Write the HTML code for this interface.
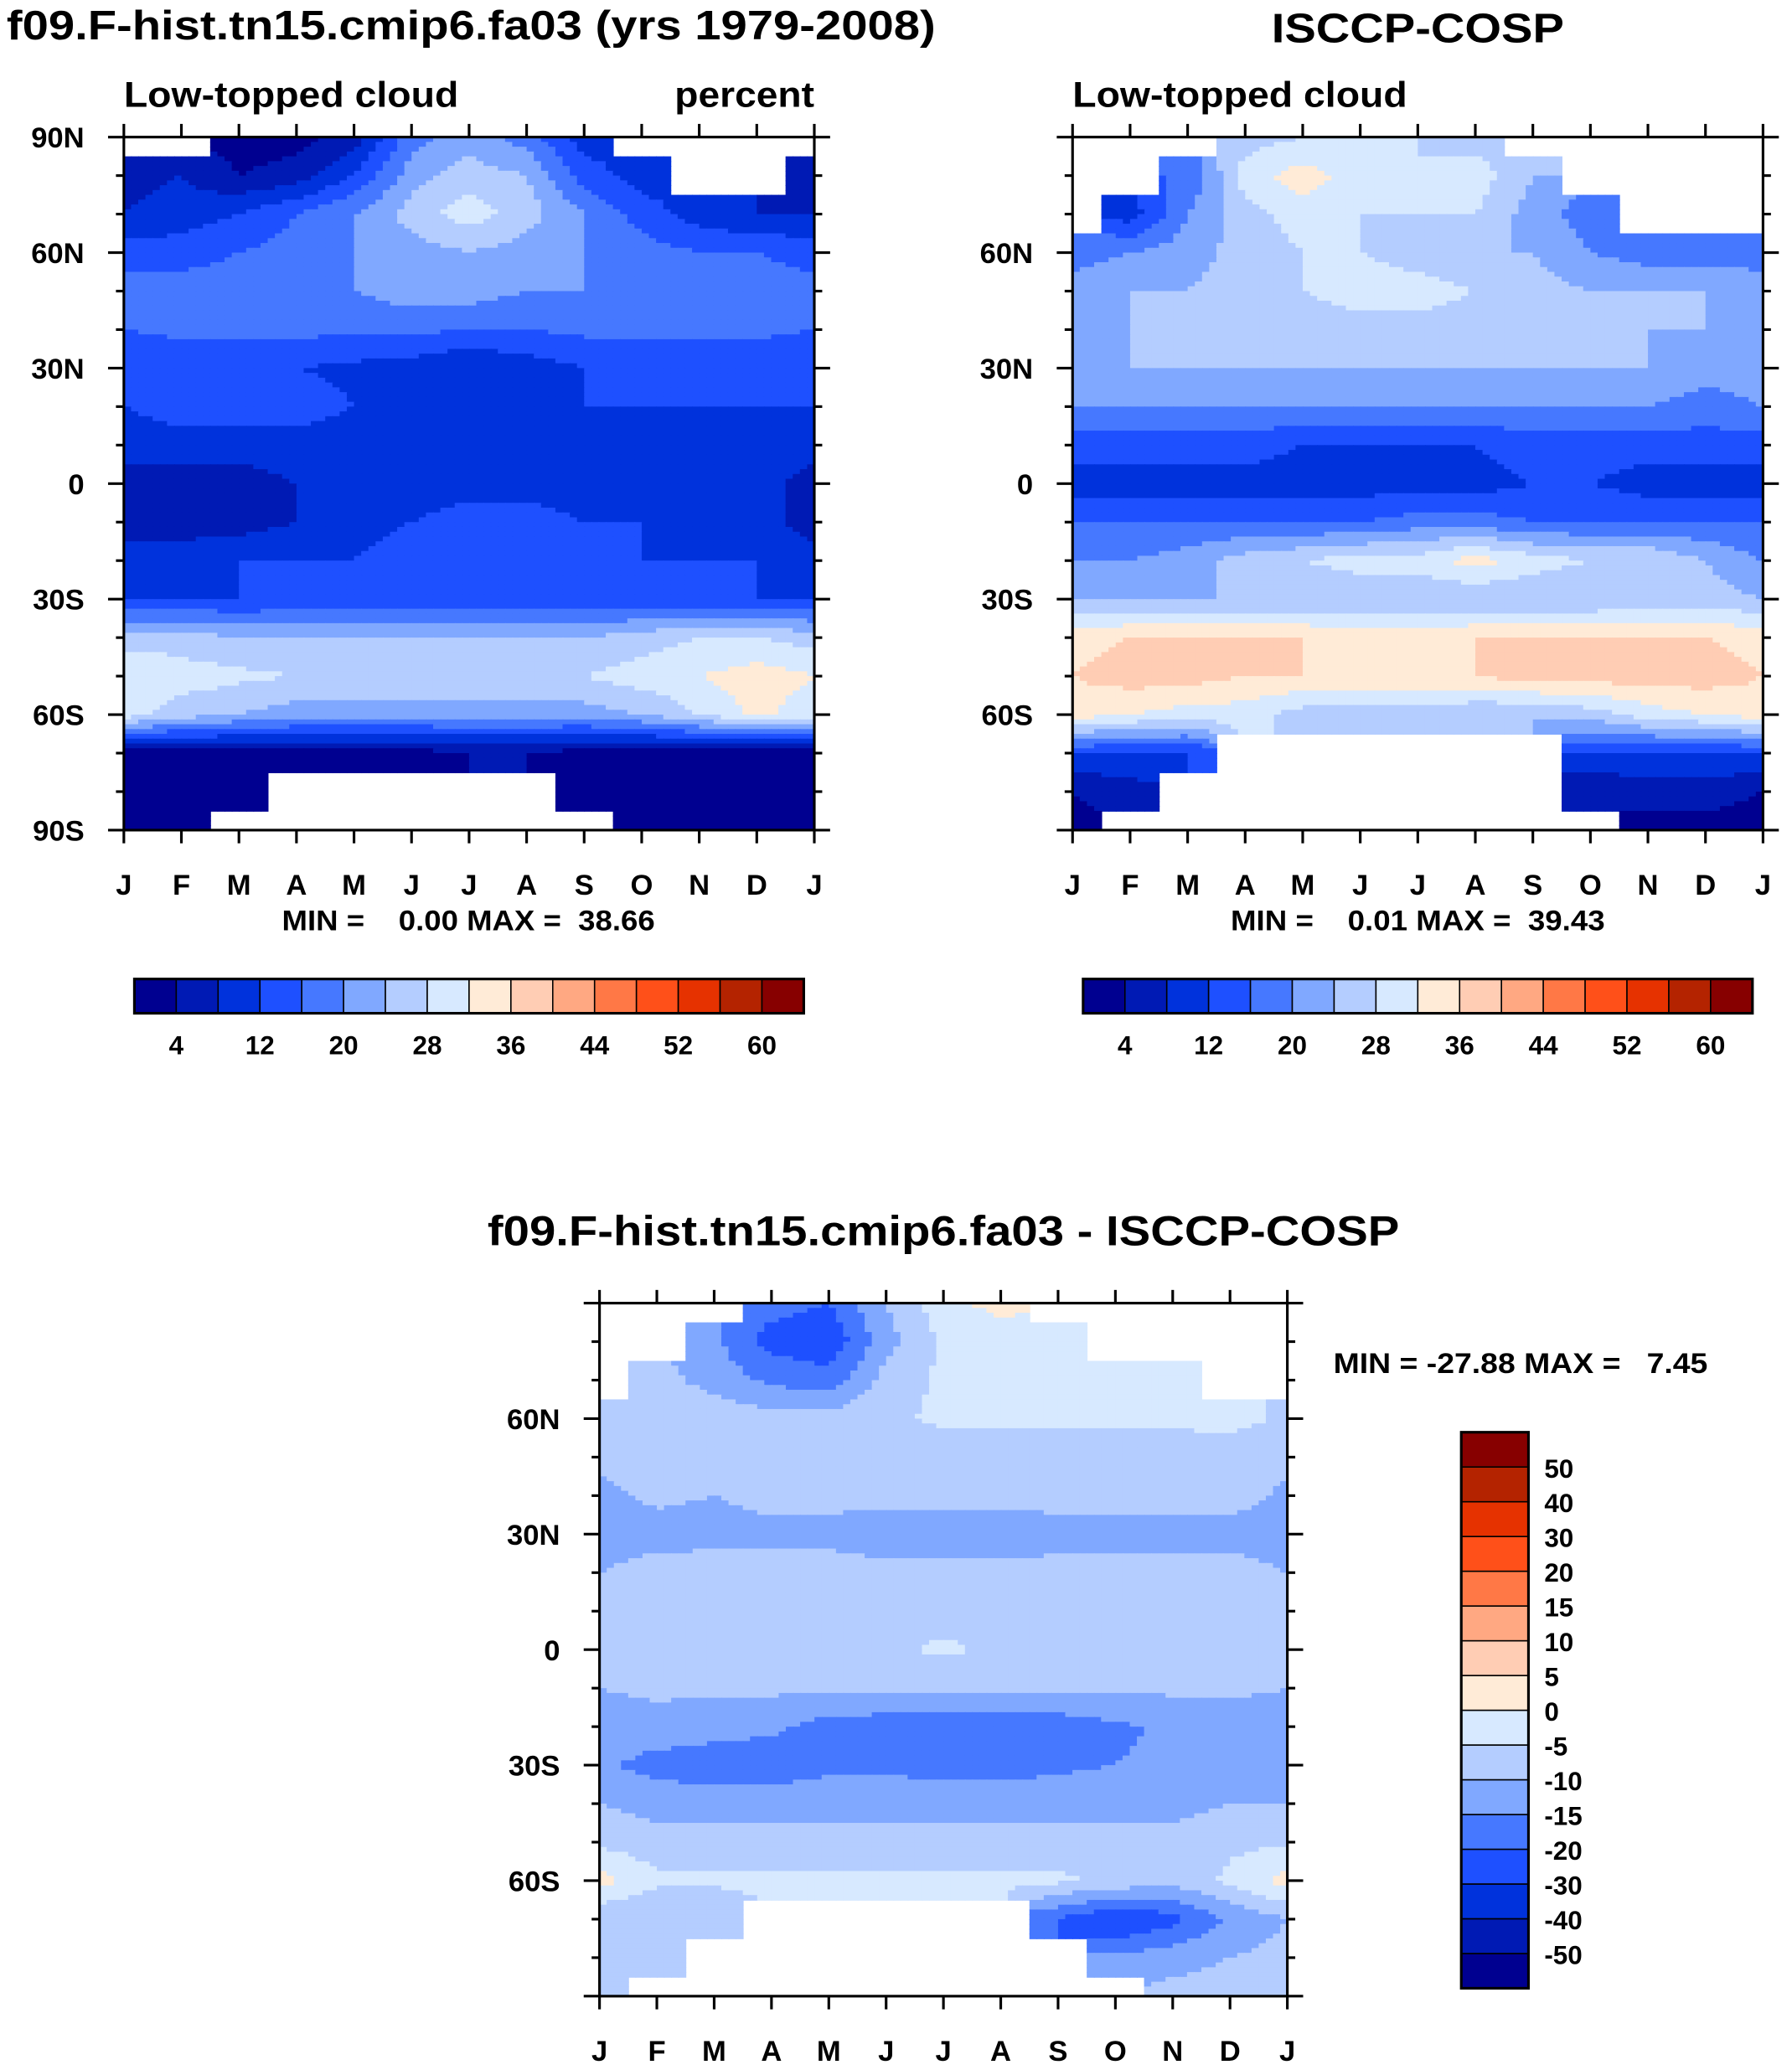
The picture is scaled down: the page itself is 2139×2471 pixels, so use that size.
<!DOCTYPE html>
<html><head><meta charset="utf-8"><style>
html,body{margin:0;padding:0;background:#fff}
svg{display:block}
text{font-family:"Liberation Sans",sans-serif;font-weight:bold;fill:#000}
</style></head><body>
<svg id="fig" width="2139" height="2471" viewBox="0 0 1360 1571" xmlns="http://www.w3.org/2000/svg">
<text x="5" y="30" font-size="31" textLength="705" lengthAdjust="spacingAndGlyphs">f09.F-hist.tn15.cmip6.fa03 (yrs 1979-2008)</text>
<text x="965" y="32" font-size="31" textLength="222" lengthAdjust="spacingAndGlyphs">ISCCP-COSP</text>
<text x="94" y="81" font-size="27" textLength="254" lengthAdjust="spacingAndGlyphs">Low-topped cloud</text>
<text x="512" y="81" font-size="27" textLength="106" lengthAdjust="spacingAndGlyphs">percent</text>
<text x="814" y="81" font-size="27" textLength="254" lengthAdjust="spacingAndGlyphs">Low-topped cloud</text>
<text x="214" y="706" font-size="22" textLength="283" lengthAdjust="spacingAndGlyphs" xml:space="preserve">MIN =    0.00 MAX =  38.66</text>
<text x="934" y="706" font-size="22" textLength="284" lengthAdjust="spacingAndGlyphs" xml:space="preserve">MIN =    0.01 MAX =  39.43</text>
<text x="370" y="945" font-size="32" textLength="692" lengthAdjust="spacingAndGlyphs">f09.F-hist.tn15.cmip6.fa03 - ISCCP-COSP</text>
<text x="1012" y="1042" font-size="22" textLength="284" lengthAdjust="spacingAndGlyphs" xml:space="preserve">MIN = -27.88 MAX =   7.45</text>
</svg>
<script>
const palette=['#000090','#001ab4','#0032dc','#1e50ff','#4678ff','#80a8ff','#b4cdff','#d7e9ff','#ffebd7','#ffcdb4','#ffa882','#ff7846','#ff5019','#e63200','#b42300','#870000'];
const monthLabels=['J','F','M','A','M','J','J','A','S','O','N','D','J'];
const levelsAbs=[4,8,12,16,20,24,28,32,36,40,44,48,52,56,60];
const levelsDiff=[-50,-40,-30,-20,-15,-10,-5,0,5,10,15,20,30,40,50];
const absTickLabels=['4','12','20','28','36','44','52','60'];
const diffTickLabels=['-50','-40','-30','-20','-15','-10','-5','0','5','10','15','20','30','40','50'];
const latLabelsA=['90N','60N','30N','0','30S','60S','90S'];
const latLabelsB=['','60N','30N','0','30S','60S',''];
const N=null;
const modelData=[
[N,N,2,2,6,18,22,18,10,N,N,N,N],
[6,8,4,6,12,22,26,24,14,10,N,N,6],
[8,10,12,16,20,26,30,26,20,14,10,8,8],
[14,14,16,18,20,22,24,22,20,18,16,16,14],
[18,18,19,20,20,22,22,20,20,19,18,18,18],
[16,17,17,17,17,17,16,16,17,17,17,17,16],
[13,13,12,12,11,10,8,10,12,13,13,13,13],
[12,14,14,14,12,12,12,12,12,12,12,12,12],
[10,10,10,10,10,10,10,10,10,10,10,10,10],
[6,6,6,8,8,10,10,10,10,10,10,10,6],
[6,6,6,8,10,12,14,14,12,12,10,10,6],
[10,10,12,12,12,14,14,14,14,12,12,12,10],
[12,12,12,13,13,13,13,13,13,13,13,12,12],
[26,26,24,24,24,24,24,24,24,26,28,28,26],
[32,30,29,28,28,28,28,28,28,30,32,34,32],
[30,26,24,22,22,22,22,22,22,24,28,33,30],
[2,2,2,2,2,2,4,4,2,2,2,2,2],
[0,0,0,N,N,N,N,N,0,0,0,0,0],
[0,0,N,N,N,N,N,N,N,0,0,0,0]];
const obsData=[
[N,N,N,26,28,28,28,26,N,N,N,N,N],
[N,N,16,30,34,30,28,30,24,N,N,N,N],
[N,10,20,26,30,28,28,28,22,18,N,N,N],
[18,20,22,26,28,28,26,24,24,20,18,18,18],
[22,24,24,26,28,30,30,28,26,24,24,24,22],
[22,24,24,24,26,26,26,26,26,24,24,24,22],
[22,24,24,24,24,24,24,24,24,24,24,22,22],
[20,20,20,20,20,20,20,20,20,20,20,18,20],
[14,14,14,14,12,12,12,12,14,14,14,14,14],
[10,10,10,10,10,10,10,10,12,12,10,10,10],
[16,16,16,16,16,16,18,18,16,16,16,16,16],
[20,20,22,26,28,30,30,34,30,28,28,24,20],
[24,24,24,24,24,24,24,24,24,24,26,26,24],
[34,36,36,36,36,34,34,36,36,36,36,36,34],
[36,38,38,36,36,36,36,36,38,38,38,38,36],
[34,32,30,30,26,26,26,24,24,26,30,32,34],
[12,12,12,N,N,N,N,N,N,12,12,12,12],
[4,6,N,N,N,N,N,N,N,4,6,6,4],
[2,N,N,N,N,N,N,N,N,N,2,2,2]];
const diffData=[
[N,N,N,-18,-20,-10,-2,2,N,N,N,N,N],
[N,N,-14,-22,-24,-12,-4,-3,-4,N,N,N,N],
[N,-8,-12,-16,-18,-8,-4,-4,-4,-4,-3,N,N],
[-6,-6,-7,-8,-8,-6,-4,-4,-4,-4,-4,-3,-6],
[-9,-9,-9,-8,-8,-8,-8,-8,-8,-8,-8,-8,-9],
[-11,-9,-10,-8,-8,-8,-8,-8,-8,-8,-8,-8,-11],
[-12,-12,-12,-12,-12,-14,-14,-14,-12,-12,-12,-12,-12],
[-10,-8,-7,-7,-7,-8,-8,-8,-8,-8,-8,-8,-10],
[-7,-7,-7,-7,-7,-7,-7,-7,-7,-7,-7,-7,-7],
[-7,-7,-7,-7,-7,-6,-4,-6,-7,-7,-7,-7,-7],
[-10,-9,-9,-9,-9,-9,-9,-9,-9,-9,-9,-9,-10],
[-12,-12,-13,-14,-17,-18,-19,-19,-18,-16,-14,-13,-12],
[-14,-17,-18,-18,-16,-16,-17,-17,-16,-15,-14,-14,-14],
[-10,-12,-12,-12,-12,-12,-12,-12,-12,-12,-12,-10,-10],
[-6,-8,-8,-8,-8,-8,-8,-8,-8,-8,-8,-6,-6],
[2,-4,-4,-4,-4,-4,-4,-4,-4,-6,-8,-4,2],
[-10,-10,-10,N,N,N,N,N,-20,-26,-22,-14,-10],
[-8,-8,N,N,N,N,N,N,N,-14,-12,-10,-8],
[-8,N,N,N,N,N,N,N,N,N,-8,-8,-8]];

const NS='http://www.w3.org/2000/svg';
const svg=document.getElementById('fig');
function mk(tag,attrs,parent){const e=document.createElementNS(NS,tag);for(const k in attrs)e.setAttribute(k,attrs[k]);(parent||svg).appendChild(e);return e;}
function colorFor(v,levels){let i=0;while(i<levels.length&&v>=levels[i])i++;return palette[i];}

function panel(data,levels,x0,x1,y0,y1,latLabels,name){
  const g=mk('g',{});
  
  
  const nr=data.length,nc=data[0].length,sub=8;
  const ys=r=>y0+(y1-y0)*r/(nr-1), xs=c=>x0+(x1-x0)*c/(nc-1);
  const tot=(nc-1)*sub, totr=(nr-1)*sub;
  for(let j=0;j<totr;j++){for(let i=0;i<tot;i++){
    const fc=(i+0.5)/sub, fr=(j+0.5)/sub;
    const c0=Math.floor(fc),r0=Math.floor(fr),tx=fc-c0,ty=fr-r0;
    const nearest=data[Math.round(fr)][Math.round(fc)];
    if(nearest===null)continue;
    let s=0,w=0;
    [[r0,c0,(1-tx)*(1-ty)],[r0,c0+1,tx*(1-ty)],[r0+1,c0,(1-tx)*ty],[r0+1,c0+1,tx*ty]].forEach(([r,c,ww])=>{const v=data[r][c];if(v!==null){s+=v*ww;w+=ww;}});
    const v=s/w;
    const cx=x0+(x1-x0)*i/tot, cy=y0+(y1-y0)*j/totr;
    const cell=mk('rect',{x:cx,y:cy,width:(x1-x0)/tot+0.6,height:(y1-y0)/totr+0.6,fill:colorFor(v,levels)},g);
    
    
  }}
  const fr=mk('rect',{x:x0,y:y0,width:x1-x0,height:y1-y0,fill:'none',stroke:'#000','stroke-width':2},g);
  
  
  for(let m=0;m<13;m++){
    const x=xs(m);
    mk('line',{x1:x,x2:x,y1:y1,y2:y1+10,stroke:'#000','stroke-width':2},g);
    mk('line',{x1:x,x2:x,y1:y0,y2:y0-10,stroke:'#000','stroke-width':2},g);
    const t=mk('text',{x:x,y:y1+49,'font-size':22,'text-anchor':'middle'},g);
    t.textContent=monthLabels[m];
    
    
  }
  for(let r=0;r<nr;r++){
    const y=ys(r),major=r%3===0,L=major?12:6;
    mk('line',{x1:x0,x2:x0-L,y1:y,y2:y,stroke:'#000','stroke-width':2},g);
    mk('line',{x1:x1,x2:x1+L,y1:y,y2:y,stroke:'#000','stroke-width':2},g);
    if(major){
      const t=mk('text',{x:x0-30,y:y+8,'font-size':22,'text-anchor':'end'},g);
      t.textContent=latLabels[r/3];
      
      
    }
  }
}
panel(modelData,levelsAbs,94,618,104,630,latLabelsA,'model-panel');
panel(obsData,levelsAbs,814,1338,104,630,latLabelsB,'obs-panel');
panel(diffData,levelsDiff,455,977,989,1515,latLabelsB,'diff-panel');

function hbar(x0,x1,y0,h,name){
  const g=mk('g',{});
  
  
  const w=(x1-x0)/16;
  palette.forEach((c,i)=>{const b=mk('rect',{x:x0+i*w,y:y0,width:w,height:h,fill:c,stroke:'#000','stroke-width':1},g);
    
    });
  mk('rect',{x:x0,y:y0,width:x1-x0,height:h,fill:'none',stroke:'#000','stroke-width':2},g);
  levelsAbs.forEach((lv,i)=>{if(i%2===0){const t=mk('text',{x:x0+(i+1)*w,y:y0+h+31,'font-size':20,'text-anchor':'middle'},g);
    t.textContent=absTickLabels[i/2];
    
    }});
}
hbar(102,610,743,26,'model-colorbar');
hbar(822,1330,743,26,'obs-colorbar');
(function(){
  const g=mk('g',{});
  
  
  const x0=1109,w=51,y0=1087,y1=1509,h=(y1-y0)/16;
  palette.forEach((c,i)=>{const b=mk('rect',{x:x0,y:y1-(i+1)*h,width:w,height:h,fill:c,stroke:'#000','stroke-width':1},g);
    
    });
  mk('rect',{x:x0,y:y0,width:w,height:y1-y0,fill:'none',stroke:'#000','stroke-width':2},g);
  levelsDiff.forEach((lv,i)=>{const t=mk('text',{x:x0+w+12,y:y1-(i+1)*h+8,'font-size':20},g);
    t.textContent=diffTickLabels[i];
    
    });
})();
</script>
</body></html>
